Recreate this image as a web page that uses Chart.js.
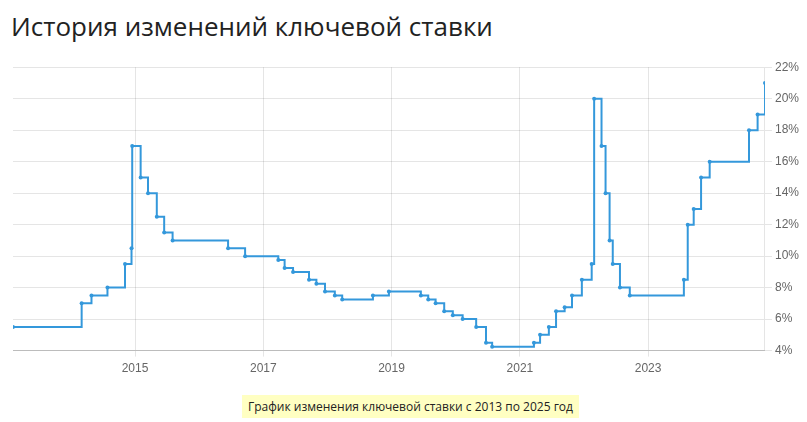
<!DOCTYPE html>
<html lang="ru">
<head>
<meta charset="utf-8">
<script src="https://cdn.jsdelivr.net/npm/chart.js@4"></script>
<style>
  html, body { margin: 0; padding: 0; background: #fff; }
  body { width: 807px; height: 422px; position: relative; overflow: hidden; font-family: "Open Sans", sans-serif; }
  #title { position: absolute; left: 11px; top: 8px; font-size: 26px; color: #222; font-weight: 400; white-space: nowrap; }
  #wrap { position: absolute; left: 0; top: 57px; width: 807px; height: 324px; }
  #caption { position: absolute; left: 242px; top: 395px; height: 23px; line-height: 23px; padding: 0 6px 0 6px; background: #ffffc2; font-size: 12px; color: #222; white-space: nowrap; }
</style>
</head>
<body>
<div id="title">История изменений ключевой ставки</div>
<div id="wrap"><canvas id="c"></canvas></div>
<div id="caption">График изменения ключевой ставки с 2013 по 2025 год</div>
<script>
const dates = [
  '2013-02-05','2014-03-03','2014-04-28','2014-07-28','2014-11-05','2014-12-12','2014-12-16',
  '2015-02-02','2015-03-16','2015-05-05','2015-06-16','2015-08-03','2016-06-14','2016-09-19',
  '2017-03-27','2017-05-02','2017-06-19','2017-09-18','2017-10-30','2017-12-18','2018-02-12',
  '2018-03-26','2018-09-17','2018-12-17','2019-06-17','2019-07-29','2019-09-09','2019-10-28',
  '2019-12-16','2020-02-10','2020-04-27','2020-06-22','2020-07-27','2021-03-22','2021-04-26',
  '2021-06-15','2021-07-26','2021-09-13','2021-10-25','2021-12-20','2022-02-14','2022-02-28',
  '2022-04-11','2022-05-04','2022-05-27','2022-06-14','2022-07-25','2022-09-19','2023-07-24',
  '2023-08-15','2023-09-18','2023-10-30','2023-12-18','2024-07-29','2024-09-16','2024-10-28'
];
const rates = [
  5.5, 7.0, 7.5, 8.0, 9.5, 10.5, 17.0,
  15.0, 14.0, 12.5, 11.5, 11.0, 10.5, 10.0,
  9.75, 9.25, 9.0, 8.5, 8.25, 7.75, 7.5,
  7.25, 7.5, 7.75, 7.5, 7.25, 7.0, 6.5,
  6.25, 6.0, 5.5, 4.5, 4.25, 4.5, 5.0,
  5.5, 6.5, 6.75, 7.5, 8.5, 9.5, 20.0,
  17.0, 14.0, 11.0, 9.5, 8.0, 7.5, 8.5,
  12.0, 13.0, 15.0, 16.0, 18.0, 19.0, 21.0
];
const yearTicks = [2015, 2017, 2019, 2021, 2023];
const rateTicks = [4, 6, 8, 10, 12, 14, 16, 18, 20, 22];

const toMs = s => { const p = s.split('-').map(Number); return Date.UTC(p[0], p[1] - 1, p[2]); };
const points = dates.map((d, i) => ({ x: toMs(d), y: rates[i] }));
const blue = 'rgb(52,152,219)';

new Chart(document.getElementById('c'), {
  type: 'line',
  data: { datasets: [{
    data: points,
    stepped: true,
    borderColor: blue,
    backgroundColor: blue,
    borderWidth: 2,
    pointRadius: 2,
    pointHoverRadius: 3,
    pointBorderWidth: 0,
    fill: false
  }]},
  options: {
    responsive: true,
    maintainAspectRatio: false,
    animation: false,
    layout: { padding: { left: 13, right: 5, top: 10, bottom: 0 } },
    plugins: { legend: { display: false }, tooltip: { enabled: false } },
    scales: {
      x: {
        type: 'linear',
        min: points[0].x,
        max: points[points.length - 1].x,
        afterBuildTicks: s => { s.ticks = yearTicks.map(y => ({ value: Date.UTC(y, 0, 1) })); },
        ticks: {
          callback: v => new Date(v).getUTCFullYear(),
          color: '#666', font: { family: 'Liberation Sans', size: 12 }, maxRotation: 0, padding: 5
        },
        grid: { color: 'rgba(0,0,0,0.1)', tickLength: 6 },
        border: { color: 'rgba(0,0,0,0.18)' }
      },
      y: {
        position: 'right',
        min: 4, max: 22,
        afterBuildTicks: s => { s.ticks = rateTicks.map(v => ({ value: v })); },
        ticks: {
          callback: v => v + '%',
          color: '#666', font: { family: 'Liberation Sans', size: 12 }, padding: 3
        },
        grid: { color: 'rgba(0,0,0,0.1)', tickLength: 7 },
        border: { color: 'rgba(0,0,0,0.1)' }
      }
    }
  }
});
</script>
</body>
</html>
